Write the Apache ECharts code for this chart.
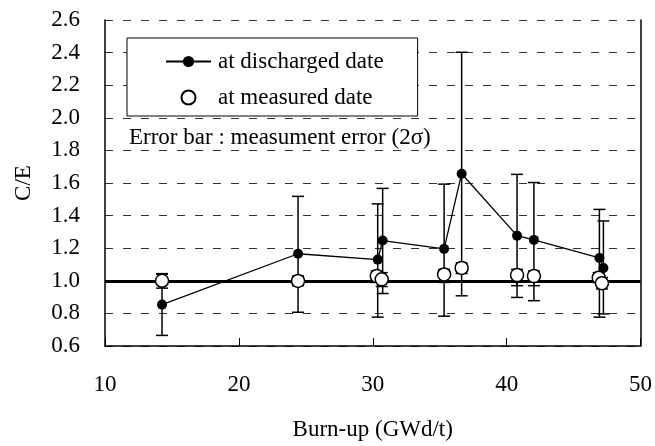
<!DOCTYPE html>
<html>
<head>
<meta charset="utf-8">
<script src="https://cdn.jsdelivr.net/npm/echarts@6/dist/echarts.min.js"></script>
<style>html,body{margin:0;padding:0;background:#fff;}#c{width:655px;height:446px;}</style>
</head>
<body>
<div id="c"></div>
<script>
// Data
const burnupDischarged = [14.26, 24.42, 30.37, 30.74, 35.33, 36.64, 40.78, 42.04, 46.93, 47.23];
const ceDischarged     = [0.854, 1.166, 1.13, 1.247, 1.196, 1.657, 1.277, 1.251, 1.14, 1.079];
const errLowDischarged = [0.665, 0.807, 0.777, 0.922, 0.783, 0.908, 0.898, 0.878, 0.777, 0.797];
const errHighDischarged= [1.044, 1.518, 1.472, 1.567, 1.593, 2.402, 1.653, 1.603, 1.438, 1.367];

const burnupMeasured   = [14.26, 24.42, 30.30, 30.67, 35.33, 36.64, 40.78, 42.04, 46.88, 47.12];
const ceMeasured       = [1.0, 0.999, 1.029, 1.009, 1.039, 1.079, 1.035, 1.029, 1.019, 0.985];
const errLowMeasured   = [0.955, 0.97, 0.99, 0.965, 0.99, 1.045, 0.97, 0.97, 0.99, 0.95];
const errHighMeasured  = [1.04, 1.03, 1.06, 1.05, 1.07, 1.11, 1.07, 1.06, 1.05, 1.02];

const seriesNames = ['at discharged date', 'at measured date'];
const xAxisName = 'Burn-up (GWd/t)';
const yAxisName = 'C/E';
const noteText = 'Error bar : measument error (2\u03c3)';

const FONT = '"Liberation Serif", "Times New Roman", serif';

function errRender(params, api) {
  const x = api.value(0), lo = api.value(1), hi = api.value(2);
  const pHi = api.coord([x, hi]);
  const pLo = api.coord([x, lo]);
  const w = 6;
  const st = { stroke: '#000', lineWidth: 1.5 };
  return {
    type: 'group',
    children: [
      { type: 'line', shape: { x1: pHi[0], y1: pHi[1], x2: pLo[0], y2: pLo[1] }, style: st },
      { type: 'line', shape: { x1: pHi[0] - w, y1: pHi[1], x2: pHi[0] + w, y2: pHi[1] }, style: st },
      { type: 'line', shape: { x1: pLo[0] - w, y1: pLo[1], x2: pLo[0] + w, y2: pLo[1] }, style: st }
    ]
  };
}

const chart = echarts.init(document.getElementById('c'), null, { renderer: 'canvas' });
const option = {
  backgroundColor: '#fff',
  animation: false,
  textStyle: { fontFamily: FONT, color: '#000' },
  grid: { left: 105, right: 12, top: 20, bottom: 95 },
  legend: {
    orient: 'vertical',
    left: 127,
    top: 38,
    data: [
      { name: seriesNames[0] },
      { name: seriesNames[1] }
    ],
    backgroundColor: '#fff',
    borderColor: '#000',
    borderWidth: 1,
    borderRadius: 0,
    padding: [12, 34, 7, 38],
    itemWidth: 45,
    itemHeight: 14,
    itemGap: 13,
    textStyle: { fontFamily: FONT, fontSize: 23, color: '#000', padding: [0, 0, 0, 2] }
  },
  graphic: [
    {
      type: 'text', left: 129, top: 126, z: 10,
      style: { text: noteText, font: '23px ' + FONT, fill: '#000' }
    }
  ],
  xAxis: {
    type: 'value', min: 10, max: 50, interval: 10,
    name: xAxisName, nameLocation: 'middle', nameGap: 72,
    nameTextStyle: { fontFamily: FONT, fontSize: 23, color: '#000' },
    axisLine: { show: true, onZero: false, lineStyle: { color: '#000', width: 1.5 } },
    axisTick: { show: true, inside: true, length: 8, lineStyle: { color: '#000', width: 1 } },
    axisLabel: { fontFamily: FONT, fontSize: 23, color: '#000', margin: 27 },
    splitLine: { show: false }
  },
  yAxis: [
    {
      type: 'value', min: 0.6, max: 2.6, interval: 0.2,
      name: yAxisName, nameLocation: 'middle', nameGap: 70, nameRotate: 90,
      nameTextStyle: { fontFamily: FONT, fontSize: 23, color: '#000' },
      axisLine: { show: true, lineStyle: { color: '#000', width: 1.5 } },
      axisTick: { show: false },
      axisLabel: { fontFamily: FONT, fontSize: 23, color: '#000', margin: 25, formatter: v => v.toFixed(1) },
      splitLine: { show: true, lineStyle: { color: '#333', width: 1, type: [8, 10] } }
    },
    {
      type: 'value', min: 0.6, max: 2.6, interval: 0.2, position: 'right',
      axisLine: { show: true, lineStyle: { color: '#000', width: 1.5 } },
      axisTick: { show: false }, axisLabel: { show: false }, splitLine: { show: false }
    }
  ],
  series: [
    {
      name: 'errDischarged', type: 'custom', renderItem: errRender, z: 3,
      data: burnupDischarged.map((x, i) => [x, errLowDischarged[i], errHighDischarged[i]]),
      encode: { x: 0, y: [1, 2] }, silent: true
    },
    {
      name: 'errMeasured', type: 'custom', renderItem: errRender, z: 3,
      data: burnupMeasured.map((x, i) => [x, errLowMeasured[i], errHighMeasured[i]]),
      encode: { x: 0, y: [1, 2] }, silent: true
    },
    {
      name: seriesNames[0], type: 'line', z: 5,
      data: burnupDischarged.map((x, i) => [x, ceDischarged[i]]),
      symbol: 'circle', symbolSize: 10, showAllSymbol: true,
      lineStyle: { color: '#000', width: 1.3 },
      itemStyle: { color: '#000', borderColor: '#000', borderWidth: 0 },
      markLine: {
        silent: true, symbol: 'none', label: { show: false },
        lineStyle: { color: '#000', width: 3, type: 'solid' },
        data: [{ yAxis: 1.0 }]
      }
    },
    {
      name: seriesNames[1], type: 'scatter', z: 6,
      data: burnupMeasured.map((x, i) => [x, ceMeasured[i]]),
      symbol: 'circle', symbolSize: 13,
      itemStyle: { color: '#fff', borderColor: '#000', borderWidth: 1.5, opacity: 1 }
    }
  ]
};
chart.setOption(option);
</script>
</body>
</html>
